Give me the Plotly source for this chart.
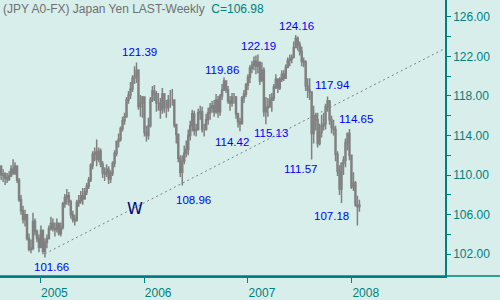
import pandas as pd
import plotly.graph_objects as go

# ---- data: weekly USD/JPY bars ----
start_week = "2004-08-16"
first_open = 110.9
close = [110.0, 110.1, 109.7, 109.6, 109.9, 110.6, 110.2, 110.9, 109.5, 107.5,
         106.4, 105.5, 106.0, 103.6, 102.5, 102.6, 105.3, 104.3, 103.6, 102.7,
         104.4, 102.3, 103.2, 103.6, 104.6, 105.1, 104.6, 104.5, 105.1, 104.1,
         104.7, 107.1, 107.7, 107.9, 107.3, 106.0, 105.5, 105.4, 107.2, 107.4,
         107.9, 107.6, 108.3, 108.9, 109.5, 111.0, 112.1, 112.3, 111.6, 112.4,
         111.1, 110.2, 110.1, 110.6, 109.6, 110.2, 111.2, 112.2, 113.4, 113.6,
         114.7, 115.5, 115.9, 117.6, 118.1, 118.7, 119.8, 120.0, 120.6, 116.9,
         117.3, 117.9, 114.3, 114.0, 115.0, 117.6, 118.5, 118.2, 117.3, 117.3,
         116.6, 118.2, 116.8, 116.8, 117.6, 117.6, 117.6, 115.1, 114.1, 111.7,
         110.3, 111.4, 112.2, 112.6, 114.0, 115.0, 116.2, 114.5, 114.6, 116.3,
         116.4, 114.6, 114.6, 115.6, 116.3, 116.8, 117.0, 116.4, 117.6, 116.4,
         118.0, 118.6, 119.5, 118.6, 117.5, 117.3, 117.9, 117.9, 116.2, 115.4,
         115.2, 117.8, 118.2, 119.1, 119.9, 120.8, 121.1, 121.5, 121.0, 121.4,
         119.5, 120.6, 116.4, 116.8, 116.9, 117.6, 117.8, 118.9, 119.7, 118.8,
         119.7, 120.2, 119.8, 120.9, 121.6, 121.7, 121.9, 122.9, 123.8, 123.2,
         122.5, 121.5, 121.4, 119.0, 118.6, 118.4, 114.2, 116.0, 115.6, 113.2,
         114.3, 115.0, 115.2, 116.9, 117.5, 115.6, 114.8, 114.6, 112.1, 110.4,
         108.6, 111.2, 111.5, 113.3, 114.2, 112.0, 108.8, 109.2, 107.0, 106.8,
         106.98]
high = [111.0, 110.6, 110.3, 110.2, 110.4, 111.0, 111.6, 111.3, 111.0, 109.7,
        108.0, 106.9, 106.5, 106.0, 104.1, 103.5, 106.2, 105.6, 104.5, 104.0,
        104.9, 104.5, 103.6, 104.0, 104.9, 105.8, 105.6, 105.2, 105.6, 105.2,
        105.2, 107.3, 108.1, 108.6, 108.3, 107.5, 106.4, 106.0, 107.5, 108.0,
        108.4, 108.7, 108.7, 109.2, 109.8, 111.2, 112.4, 112.8, 113.6, 112.8,
        112.7, 111.4, 110.8, 111.1, 110.9, 110.5, 111.4, 112.5, 113.5, 114.2,
        114.9, 115.9, 116.3, 117.9, 118.5, 119.4, 120.1, 121.0, 121.39, 120.7,
        118.1, 118.0, 116.4, 115.0, 115.8, 117.9, 119.0, 119.1, 118.5, 118.3,
        117.8, 118.8, 118.3, 117.6, 118.1, 118.6, 118.7, 117.6, 115.2, 114.2,
        112.0, 112.0, 113.0, 113.5, 114.6, 115.5, 116.6, 116.5, 115.2, 116.7,
        117.0, 116.9, 115.2, 116.2, 116.8, 117.3, 117.5, 117.6, 118.2, 118.0,
        118.2, 119.2, 119.86, 119.6, 119.0, 118.0, 118.3, 118.3, 118.0, 116.3,
        115.8, 118.0, 118.6, 119.3, 120.2, 121.1, 121.5, 122.0, 122.1, 122.19,
        121.2, 121.4, 120.9, 117.9, 117.8, 118.2, 118.3, 119.2, 120.2, 119.8,
        119.9, 120.6, 120.6, 121.2, 121.9, 122.2, 122.2, 123.5, 124.16, 124.0,
        123.5, 123.0, 121.9, 121.6, 119.8, 119.8, 118.2, 117.0, 116.3, 116.3,
        115.2, 116.1, 116.3, 117.2, 117.94, 117.6, 116.0, 115.6, 115.0, 112.4,
        111.0, 111.3, 111.9, 113.7, 114.3, 114.65, 112.0, 110.3, 109.4, 107.9,
        107.5]
low = [109.5, 109.3, 109.0, 109.2, 109.4, 109.8, 110.0, 110.0, 109.2, 107.3,
       106.0, 105.1, 104.8, 103.4, 102.3, 102.1, 102.4, 103.9, 103.2, 102.2,
       102.6, 102.0, 101.66, 102.6, 103.5, 104.4, 104.3, 103.8, 104.2, 103.9,
       103.8, 104.5, 106.7, 107.0, 106.9, 105.6, 105.2, 104.9, 105.3, 106.8,
       107.1, 107.0, 107.5, 108.0, 108.6, 109.3, 110.6, 111.4, 110.9, 111.3,
       110.8, 109.7, 109.4, 109.8, 109.1, 109.2, 109.9, 110.8, 111.9, 112.8,
       113.4, 114.4, 115.1, 115.8, 117.2, 117.7, 118.4, 119.2, 119.3, 116.6,
       115.9, 115.8, 113.9, 113.4, 113.6, 114.8, 117.4, 117.5, 116.4, 116.5,
       115.7, 116.2, 116.3, 115.8, 116.4, 116.8, 117.0, 114.8, 113.2, 111.3,
       109.8, 108.96, 111.1, 111.8, 112.0, 113.5, 114.4, 114.0, 113.9, 114.5,
       115.6, 114.3, 113.9, 114.5, 115.1, 115.6, 116.3, 115.9, 116.2, 115.8,
       116.0, 117.6, 118.5, 118.3, 117.2, 116.5, 116.9, 117.2, 115.7, 114.8,
       114.42, 115.3, 117.3, 117.9, 118.6, 119.3, 120.3, 120.6, 120.2, 120.3,
       119.1, 119.6, 115.9, 115.13, 115.9, 116.8, 116.4, 117.5, 118.7, 118.3,
       118.6, 119.4, 119.5, 119.8, 120.8, 121.0, 121.3, 121.8, 122.9, 122.6,
       122.1, 121.0, 120.9, 118.5, 117.8, 117.6, 111.57, 113.2, 114.5, 112.8,
       113.0, 113.8, 114.5, 114.6, 116.4, 115.1, 114.2, 114.0, 111.4, 109.9,
       108.0, 107.18, 110.0, 110.8, 112.5, 111.5, 108.6, 108.4, 106.8, 104.9,
       106.3]

year_ticks = ["2005-01-01", "2006-01-01", "2007-01-01", "2008-01-01"]
year_labels = ["2005", "2006", "2007", "2008"]

trend_dates = ["2005-01-17", "2008-11-17"]
trend_prices = [102.05, 122.70]

# labels: text, date, price
label_text = ["121.39", "124.16", "122.19", "119.86", "117.94", "114.42", "115.13",
              "114.65", "111.57", "108.96", "107.18", "101.66"]
label_date = ["2005-12-15", "2007-06-22", "2007-02-08", "2006-10-02", "2007-10-26",
              "2006-11-06", "2007-03-23", "2008-01-17", "2007-07-06", "2006-06-22",
              "2007-10-22", "2005-02-10"]
label_price = [122.4, 125.05, 123.08, 120.63, 119.15, 113.36, 114.24, 115.71,
               110.6, 107.46, 105.89, 100.69]

# ---- figure ----
BG = "#d7eeea"
TEAL = "#008080"
GRAY = "#808080"

dates = pd.date_range(start_week, periods=len(close), freq="7D")
opens = [first_open] + close[:-1]

fig = go.Figure()
fig.add_trace(go.Candlestick(
    x=dates, open=opens, high=high, low=low, close=close,
    increasing=dict(line=dict(color=GRAY, width=1.5), fillcolor=BG),
    decreasing=dict(line=dict(color=GRAY, width=1.5), fillcolor=GRAY),
    whiskerwidth=0, showlegend=False, hoverinfo="skip",
))
fig.add_trace(go.Scatter(
    x=trend_dates, y=trend_prices, mode="lines",
    line=dict(color="#808080", width=1, dash="2px,3px"),
    showlegend=False, hoverinfo="skip",
))

for t, d, p in zip(label_text, label_date, label_price):
    fig.add_annotation(x=d, y=p, text=t, showarrow=False,
                       font=dict(color="#0000ff", size=11.5,
                                 family="Liberation Sans, Arial"))
fig.add_annotation(x="2005-11-28", y=106.58, text="W", showarrow=False,
                   font=dict(color="#000080", size=16, family="DejaVu Sans, Arial"))

fig.add_annotation(xref="paper", yref="paper", x=0.0, y=1.0, xanchor="left", yanchor="top",
                   yshift=0, xshift=1,
                   text="(JPY A0-FX) Japan Yen LAST-Weekly  <span style='color:#008080'>C=106.98</span>",
                   showarrow=False,
                   font=dict(color="#707070", size=12, family="Liberation Sans, Arial"))

# extend bottom axis line across the right margin
fig.add_shape(type="line", xref="paper", yref="paper", x0=0, x1=500 / 445, y0=0, y1=0,
              line=dict(color=TEAL, width=1.5))

fig.update_layout(
    width=500, height=300,
    margin=dict(l=0, r=55, t=0, b=16),
    paper_bgcolor=BG, plot_bgcolor=BG,
    font=dict(family="Liberation Sans, Arial", size=12, color=TEAL),
    xaxis=dict(
        type="date", range=["2004-08-12", "2008-11-24"],
        rangeslider=dict(visible=False),
        showgrid=False, zeroline=False,
        showline=True, linecolor=TEAL, linewidth=1.5,
        tickmode="array", tickvals=year_ticks, ticktext=year_labels,
        ticks="outside", ticklen=5, tickcolor=TEAL, tickwidth=1,
        ticklabelshift=14, ticklabelstandoff=0,
        tickfont=dict(color=TEAL, size=12),
    ),
    yaxis=dict(
        side="right", range=[99.8, 127.7],
        showgrid=False, zeroline=False,
        showline=True, linecolor=TEAL, linewidth=1.5,
        tickmode="array", tickvals=[102, 106, 110, 114, 118, 122, 126],
        tickformat=".2f",
        ticks="outside", ticklen=4, tickcolor=TEAL, tickwidth=1,
        minor=dict(tickvals=[104, 108, 112, 116, 120, 124], ticks="outside",
                   ticklen=4, tickcolor=TEAL, tickwidth=1),
        tickfont=dict(color=TEAL, size=12),
        ticklabelstandoff=0,
    ),
)

fig.write_html("out.html")
